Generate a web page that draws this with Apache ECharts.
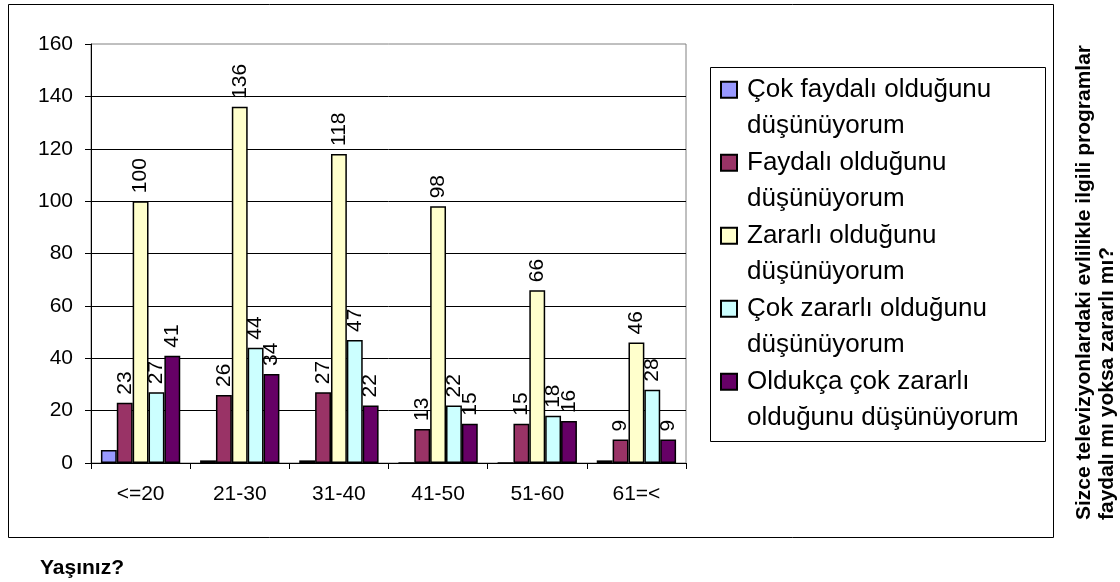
<!DOCTYPE html>
<html>
<head>
<meta charset="utf-8">
<script src="https://cdn.jsdelivr.net/npm/echarts@6/dist/echarts.min.js"></script>
<style>
html,body{margin:0;padding:0;background:#fff;}
#chart{width:1120px;height:582px;}
</style>
</head>
<body>
<div id="chart"></div>
<script>
// ---- data ----
const categories = ['<=20', '21-30', '31-40', '41-50', '51-60', '61=<'];
const seriesNames = [
  'Çok faydalı olduğunu düşünüyorum',
  'Faydalı olduğunu düşünüyorum',
  'Zararlı olduğunu düşünüyorum',
  'Çok zararlı olduğunu düşünüyorum',
  'Oldukça çok zararlı olduğunu düşünüyorum'
];
const legendLines = [
  ['Çok faydalı olduğunu', 'düşünüyorum'],
  ['Faydalı olduğunu', 'düşünüyorum'],
  ['Zararlı olduğunu', 'düşünüyorum'],
  ['Çok zararlı olduğunu', 'düşünüyorum'],
  ['Oldukça çok zararlı', 'olduğunu düşünüyorum']
];
const cokFaydali = [5, 1, 1, 0, 0, 1];
const faydali = [23, 26, 27, 13, 15, 9];
const zararli = [100, 136, 118, 98, 66, 46];
const cokZararli = [27, 44, 47, 22, 18, 28];
const oldukcaCokZararli = [41, 34, 22, 15, 16, 9];
const yTicks = { min: 0, max: 160, interval: 20 };
const xTitle = 'Yaşınız?';
const yTitleLines = ['Sizce televizyonlardaki evlilikle ilgili programlar', 'faydalı mı yoksa zararlı mı?'];

const colors = ['#9999FF', '#993366', '#FFFFCC', '#CCFFFF', '#660066'];
const FONT = '"Liberation Sans", Arial, Helvetica, sans-serif';

const seriesValues = [cokFaydali, faydali, zararli, cokZararli, oldukcaCokZararli];

const chart = echarts.init(document.getElementById('chart'), null, { renderer: 'canvas' });

const series = seriesValues.map((vals, i) => ({
  name: seriesNames[i],
  type: 'bar',
  data: vals,
  barGap: '0%',
  barCategoryGap: '20%',
  itemStyle: { color: colors[i], borderColor: '#000', borderWidth: 1.5 },
  label: {
    show: i !== 0,
    position: 'top',
    rotate: 90,
    align: 'left',
    verticalAlign: 'middle',
    distance: 8,
    color: '#000',
    fontSize: 21,
    fontFamily: FONT
  },
  emphasis: { disabled: true },
  animation: false
}));

const option = {
  animation: false,
  backgroundColor: '#fff',
  color: colors,
  grid: {
    left: 91, right: 434, top: 44, bottom: 119,
    show: true, borderColor: '#808080', borderWidth: 1, backgroundColor: '#fff'
  },
  xAxis: {
    type: 'category',
    data: categories,
    axisLine: { show: true, lineStyle: { color: '#000', width: 1 } },
    axisTick: { show: true, length: 6, lineStyle: { color: '#000' } },
    axisLabel: { color: '#000', fontSize: 21, fontFamily: FONT, margin: 21, interval: 0 },
    splitLine: { show: false }
  },
  yAxis: {
    type: 'value',
    min: yTicks.min, max: yTicks.max, interval: yTicks.interval,
    axisLine: { show: true, lineStyle: { color: '#000', width: 1 } },
    axisTick: { show: true, length: 6, lineStyle: { color: '#000' } },
    axisLabel: { color: '#000', fontSize: 21, fontFamily: FONT, margin: 18 },
    splitLine: { show: true, showMaxLine: false, lineStyle: { color: '#000', width: 1 } }
  },
  legend: {
    orient: 'vertical',
    left: 720,
    top: 35,
    padding: 0,
    itemWidth: 16,
    itemHeight: 16,
    itemGap: -36.5,
    icon: 'rect',
    selectedMode: false,
    data: seriesNames,
    formatter: function (name) {
      const idx = seriesNames.indexOf(name);
      return '\n' + legendLines[idx].join('\n');
    },
    textStyle: {
      color: '#000', fontSize: 26, fontFamily: FONT, lineHeight: 36.5,
      padding: [0, 0, 0, 5]
    }
  },
  graphic: [
    {
      type: 'rect', z: -10, silent: true,
      shape: { x: 8.5, y: 4.5, width: 1045, height: 533 },
      style: { fill: '#fff', stroke: '#000', lineWidth: 1 }
    },
    {
      type: 'rect', z: 1, silent: true,
      shape: { x: 710.5, y: 67.5, width: 335, height: 374 },
      style: { fill: '#fff', stroke: '#000', lineWidth: 1 }
    },
    {
      type: 'text', silent: true,
      x: 40, y: 568,
      style: {
        text: xTitle, fill: '#000',
        font: 'bold 21px ' + FONT,
        textAlign: 'left', textVerticalAlign: 'middle',
        align: 'left', verticalAlign: 'middle'
      }
    },
    {
      type: 'text', silent: true,
      x: 1073, y: 520, rotation: Math.PI / 2,
      style: {
        text: yTitleLines.join('\n'), fill: '#000',
        font: 'bold 21px ' + FONT,
        lineHeight: 23,
        textAlign: 'left', textVerticalAlign: 'top',
        align: 'left', verticalAlign: 'top'
      }
    }
  ],
  series: series
};

chart.setOption(option);
</script>
</body>
</html>
